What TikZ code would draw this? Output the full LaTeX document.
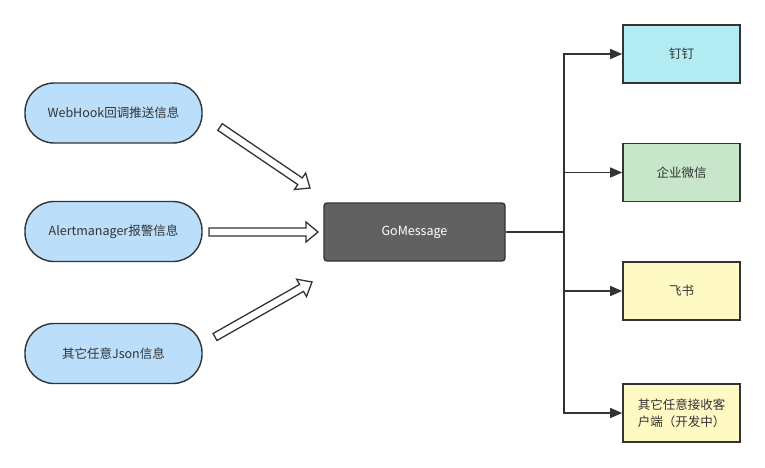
\documentclass[tikz,border=0pt]{standalone}
\usepackage{fontspec}
\setmainfont{Noto Sans CJK SC}
\usetikzlibrary{arrows.meta,calc}
\definecolor{ink}{HTML}{333333}
\definecolor{srcfill}{HTML}{BBDEFB}
\definecolor{gofill}{HTML}{616161}
\definecolor{dingfill}{HTML}{B2EBF2}
\definecolor{wxfill}{HTML}{C8E6C9}
\definecolor{yelfill}{HTML}{FFF9C4}
\tikzset{
  srcbox/.style={draw=ink, line width=1.4pt, fill=srcfill, rounded corners=29pt,
    minimum width=177pt, minimum height=60pt, inner sep=0pt},
  gobox/.style={draw=ink, line width=1.4pt, fill=gofill, rounded corners=3pt,
    minimum width=181pt, minimum height=58pt, text=white, inner sep=0pt},
  dstbox/.style={draw=ink, line width=1.6pt, minimum width=117pt,
    minimum height=58pt, inner sep=0pt},
  conn/.style={draw=ink, line width=1.4pt},
  connarrow/.style={conn, -{Triangle[length=12pt,width=10pt]}},
  blockarr/.style={draw=ink, line width=1.3pt, fill=white, line join=miter}
}
\newcommand\hollowarrow[2]{%
  \draw[blockarr]
    ($(#1)!4pt!90:(#2)$) --
    ($(#2)!12.65pt!-18.43:(#1)$) --
    ($(#2)!15.62pt!-39.81:(#1)$) --
    (#2) --
    ($(#2)!15.62pt!39.81:(#1)$) --
    ($(#2)!12.65pt!18.43:(#1)$) --
    ($(#1)!4pt!-90:(#2)$) -- cycle;}
\begin{document}
\begin{tikzpicture}[x=1pt,y=1pt, font=\fontsize{12.5}{17}\selectfont, text=ink]
\useasboundingbox (0,0) rectangle (765,467);
% sources
\node[srcbox] (s1) at (113.5,354) {WebHook回调推送信息};
\node[srcbox] (s2) at (113.5,235.5) {Alertmanager报警信息};
\node[srcbox] (s3) at (113.5,113.5) {其它任意Json信息};
% center
\node[gobox] (go) at (414.5,235) {GoMessage};
% destinations
\node[dstbox, fill=dingfill] (d1) at (681.5,413) {钉钉};
\node[dstbox, fill=wxfill] (d2) at (681.5,294.5) {企业微信};
\node[dstbox, fill=yelfill] (d3) at (681.5,176) {飞书};
\node[dstbox, fill=yelfill, align=left] (d4) at (681.5,54) {其它任意接收客\\户端（开发中）};
% block arrows
\coordinate (a1s) at (220,340);
\coordinate (a1e) at (310,279);
\coordinate (a2s) at (209,235);
\coordinate (a2e) at (318,235);
\coordinate (a3s) at (215,130);
\coordinate (a3e) at (312,185);
\hollowarrow{a1s}{a1e}
\hollowarrow{a2s}{a2e}
\hollowarrow{a3s}{a3e}
% connectors
\coordinate (trunk) at (564,235);
\draw[conn] (go.east) -- (trunk);
\draw[connarrow] (trunk) |- (d1.west);
\draw[connarrow] (trunk) |- (d2.west);
\draw[connarrow] (trunk) |- (d3.west);
\draw[connarrow] (trunk) |- (d4.west);
\end{tikzpicture}
\end{document}
